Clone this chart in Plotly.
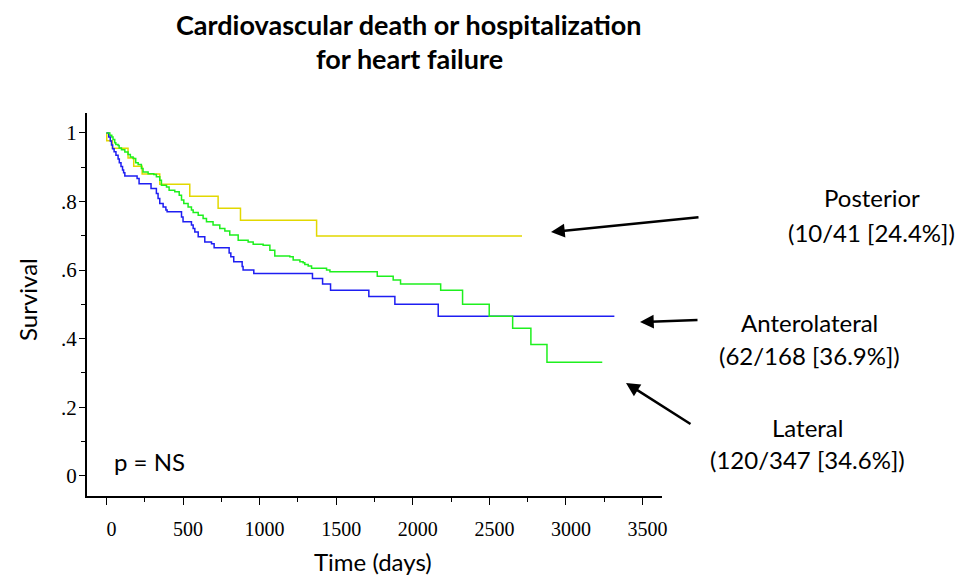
import plotly.graph_objects as go

# ---- data ----
posterior_days = [0, 2, 39, 141, 178, 233, 348, 544, 729, 875, 1372, 2713]
posterior_surv = [1.0, 0.977, 0.955, 0.927, 0.903, 0.880, 0.850, 0.815, 0.780, 0.745, 0.699, 0.699]

antero_days = [0, 15, 25, 33, 40, 50, 62, 76, 84, 95, 105, 112, 120, 200, 213, 291, 326, 337,
               348, 370, 388, 396, 490, 500, 555, 566, 577, 599, 642, 686, 703, 801, 812, 831,
               886, 892, 962, 1345, 1411, 1463, 1713, 1883, 2166, 3316]
antero_surv = [1.0, 0.988, 0.976, 0.965, 0.954, 0.945, 0.935, 0.924, 0.913, 0.902, 0.892, 0.884,
               0.874, 0.867, 0.852, 0.838, 0.823, 0.809, 0.794, 0.784, 0.775, 0.770, 0.755, 0.741,
               0.731, 0.721, 0.711, 0.697, 0.682, 0.677, 0.665, 0.650, 0.639, 0.624, 0.610, 0.600,
               0.590, 0.575, 0.559, 0.541, 0.523, 0.500, 0.465, 0.465]

lateral_days = [0, 22, 35, 43, 54, 61, 76, 83, 98, 120, 141, 156, 174, 191, 207, 228, 239, 272,
                309, 326, 348, 359, 392, 409, 446, 475, 490, 505, 533, 555, 566, 599, 631, 653,
                696, 740, 773, 805, 860, 925, 958, 1023, 1067, 1099, 1197, 1219, 1263, 1284, 1295,
                1317, 1339, 1437, 1459, 1768, 1872, 1920, 2182, 2325, 2499, 2652, 2771, 2876, 3237]
lateral_surv = [1.0, 0.993, 0.988, 0.981, 0.971, 0.966, 0.963, 0.956, 0.951, 0.944, 0.937, 0.930,
                0.925, 0.913, 0.908, 0.896, 0.886, 0.881, 0.879, 0.872, 0.862, 0.847, 0.842, 0.833,
                0.828, 0.818, 0.804, 0.794, 0.784, 0.775, 0.768, 0.760, 0.750, 0.741, 0.731, 0.721,
                0.714, 0.702, 0.687, 0.682, 0.675, 0.672, 0.658, 0.641, 0.639, 0.629, 0.624, 0.621,
                0.616, 0.612, 0.605, 0.600, 0.595, 0.582, 0.571, 0.559, 0.541, 0.500, 0.465, 0.430,
                0.383, 0.331, 0.331]

x_tickvals = [0, 500, 1000, 1500, 2000, 2500, 3000, 3500]
y_tickvals = [0, 0.2, 0.4, 0.6, 0.8, 1.0]
y_ticktext = ["0", ".2", ".4", ".6", ".8", "1"]

group_names = ["Posterior", "Anterolateral", "Lateral"]
group_counts = ["(10/41 [24.4%])", "(62/168 [36.9%])", "(120/347 [34.6%])"]

title_lines = ["Cardiovascular death or hospitalization", "for heart failure"]

# ---- figure ----
SANS = "Lato, 'Open Sans', sans-serif"
SERIF = "'Liberation Serif', 'DejaVu Serif', serif"
TXT = 24

fig = go.Figure()
for days, surv, color in [
    (posterior_days, posterior_surv, "#E2D800"),
    (antero_days, antero_surv, "#1E1EF2"),
    (lateral_days, lateral_surv, "#1EF01E"),
]:
    fig.add_trace(go.Scatter(x=days, y=surv, mode="lines", line=dict(shape="hv", color=color, width=1.5),
                             showlegend=False, hoverinfo="skip"))

W, H = 961, 575
L, R, T, B = 87, 299, 113, 79
pw, ph = W - L - R, H - T - B


def px2paper(px, py):
    return (px - L) / pw, (H - B - py) / ph


annos = []
# title
for txt, cy in zip(title_lines, [25, 59]):
    x, y = px2paper(409, cy)
    annos.append(dict(text=f"<b>{txt}</b>", x=x, y=y, xref="paper", yref="paper", showarrow=False,
                      xanchor="center", yanchor="middle", font=dict(family=SANS, size=27, color="black")))

# group labels
label_pos = [((872, 197), (872, 232)), ((810, 322), (810, 355)), ((807, 427), (807, 459))]
for name, cnt, (p1, p2) in zip(group_names, group_counts, label_pos):
    for txt, (cx, cy) in [(name, p1), (cnt, p2)]:
        x, y = px2paper(cx, cy)
        annos.append(dict(text=txt, x=x, y=y, xref="paper", yref="paper", showarrow=False,
                          xanchor="center", yanchor="middle", font=dict(family=SANS, size=TXT, color="black")))

# arrows (head, tail)
arrows = [((551, 232), (700, 217)), ((640, 322), (699, 320)), ((626, 383), (692, 425))]
for (hx, hy), (tx, ty) in arrows:
    x, y = px2paper(hx, hy)
    annos.append(dict(text="", x=x, y=y, xref="paper", yref="paper", showarrow=True,
                      ax=tx - hx, ay=ty - hy, axref="pixel", ayref="pixel",
                      arrowhead=2, arrowsize=1.1, arrowwidth=2.5, arrowcolor="black", standoff=0))

# p = NS
x, y = px2paper(149, 461)
annos.append(dict(text="p = NS", x=x, y=y, xref="paper", yref="paper", showarrow=False,
                  xanchor="center", yanchor="middle", font=dict(family=SANS, size=TXT, color="black")))

# axis titles
x, y = px2paper(373, 561)
annos.append(dict(text="Time (days)", x=x, y=y, xref="paper", yref="paper", showarrow=False,
                  xanchor="center", yanchor="middle", font=dict(family=SANS, size=TXT, color="black")))
x, y = px2paper(27, 300)
annos.append(dict(text="Survival", x=x, y=y, xref="paper", yref="paper", showarrow=False, textangle=-90,
                  xanchor="center", yanchor="middle", font=dict(family=SANS, size=TXT, color="black")))

fig.update_layout(
    width=W, height=H,
    margin=dict(l=L, r=R, t=T, b=B, pad=0),
    plot_bgcolor="white", paper_bgcolor="white",
    annotations=annos,
    xaxis=dict(range=[-127, 3627], tickvals=x_tickvals, ticks="outside", ticklen=7, tickwidth=1,
               tickcolor="black", showline=True, linecolor="black", linewidth=2, showgrid=False,
               zeroline=False, tickfont=dict(family=SERIF, size=20, color="black"),
               ticklabelshift=5, ticklabelstandoff=7,
               minor=dict(dtick=250, tick0=0, ticks="outside", ticklen=4, tickcolor="black", showgrid=False)),
    yaxis=dict(range=[-0.059, 1.058], tickvals=y_tickvals, ticktext=y_ticktext, ticks="outside", ticklen=6,
               tickwidth=1, tickcolor="black", showline=True, linecolor="black", linewidth=2, showgrid=False,
               zeroline=False, tickfont=dict(family=SERIF, size=21, color="black"), ticklabelstandoff=-2,
               minor=dict(dtick=0.1, tick0=0, ticks="outside", ticklen=4, tickcolor="black", showgrid=False)),
)

fig.write_html("out.html")
